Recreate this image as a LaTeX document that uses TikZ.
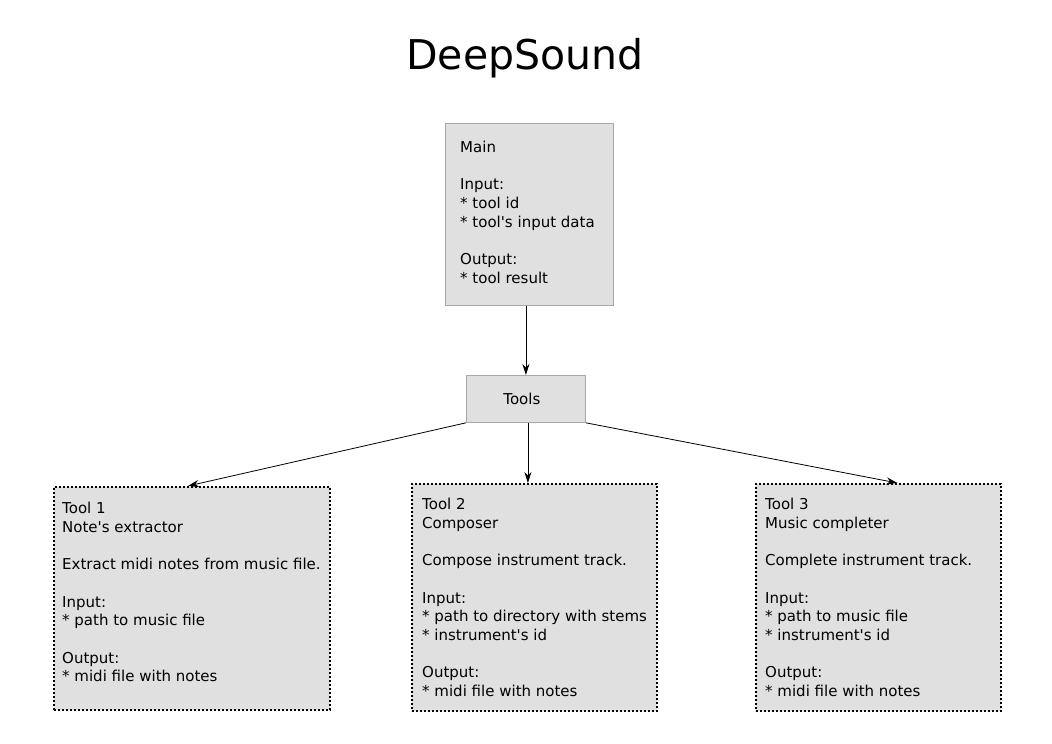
\documentclass[tikz,border=0pt]{standalone}
\usepackage{fontspec}
\setmainfont{DejaVu Sans}
\usetikzlibrary{arrows.meta}
\definecolor{boxfill}{HTML}{E0E0E0}
\definecolor{boxline}{HTML}{A8A8A8}
\newcommand{\qs}{\textquotesingle}
\begin{document}
\begin{tikzpicture}[x=1pt,y=-1pt,
  txt/.style={font=\fontsize{15}{18.7}\selectfont, align=left, inner sep=0pt, anchor=north west},
  solidbox/.style={draw=boxline, fill=boxfill, line width=0.8pt, rectangle, anchor=north west, inner sep=0pt},
  dotbox/.style={draw=black, fill=boxfill, line width=1.8pt, dash pattern=on 1.8pt off 2.2pt, rectangle, anchor=north west, inner sep=0pt},
  conn/.style={line width=0.8pt, -{Stealth[length=11pt,width=7pt]}}]
\useasboundingbox (0,0) rectangle (1052,744);
\node[font=\fontsize{41}{48}\selectfont] (title) at (525,58) {DeepSound};
% boxes
\node[solidbox, minimum width=168pt, minimum height=182pt] (main) at (445,123) {};
\node[solidbox, minimum width=119pt, minimum height=47pt, font=\fontsize{15}{18.7}\selectfont, align=left, text width=45pt, inner xsep=37pt] (tools) at (466,375) {Tools};
\node[dotbox, minimum width=276pt, minimum height=223pt] (t1) at (53,486) {};
\node[dotbox, minimum width=245pt, minimum height=227pt] (t2) at (411,483) {};
\node[dotbox, minimum width=245pt, minimum height=227pt] (t3) at (755,483) {};
% texts
\node[txt] (maintxt) at ([shift={(15,18)}]main.north west)
 {Main\\[18.7pt]Input:\\{}* tool id\\{}* tool\qs s input data\\[18.7pt]Output:\\{}* tool result};
\node[txt] (t1txt) at ([shift={(9,16)}]t1.north west)
 {Tool 1\\Note\qs s extractor\\[18.7pt]Extract midi notes from music file.\\[18.7pt]Input:\\{}* path to music file\\[18.7pt]Output:\\{}* midi file with notes};
\node[txt] (t2txt) at ([shift={(11,15)}]t2.north west)
 {Tool 2\\Composer\\[18.7pt]Compose instrument track.\\[18.7pt]Input:\\{}* path to directory with stems\\{}* instrument\qs s id\\[18.7pt]Output:\\{}* midi file with notes};
\node[txt] (t3txt) at ([shift={(10,15)}]t3.north west)
 {Tool 3\\Music completer\\[18.7pt]Complete instrument track.\\[18.7pt]Input:\\{}* path to music file\\{}* instrument\qs s id\\[18.7pt]Output:\\{}* midi file with notes};
% connectors
\draw[conn] (main.south -| tools.north) -- (tools.north);
\draw[conn] (tools.south west) -- ([xshift=-4pt]t1.north);
\draw[conn] ([xshift=2pt]tools.south) -- ([xshift=2pt]tools.south |- t2.north);
\draw[conn] (tools.south east) -- ([xshift=19pt]t3.north);
\end{tikzpicture}
\end{document}
